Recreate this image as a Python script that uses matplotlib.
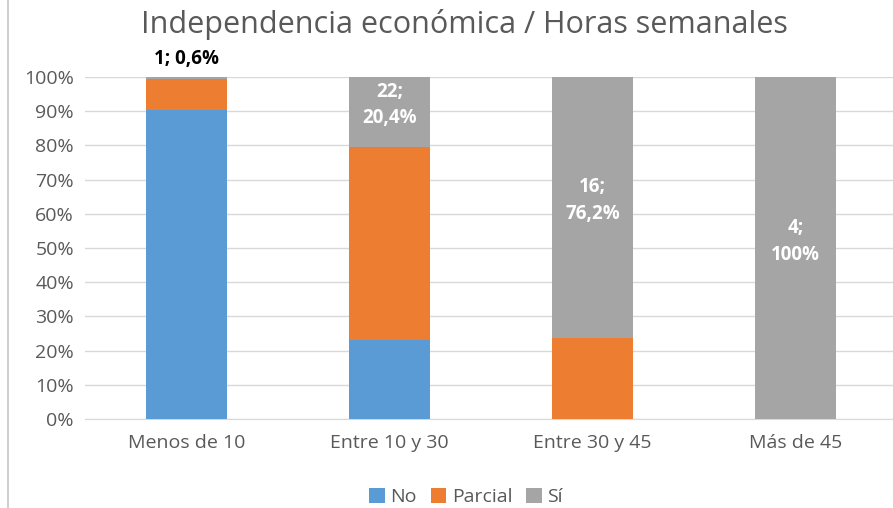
import matplotlib
matplotlib.use("Agg")
import matplotlib.pyplot as plt
import numpy as np

categories = ["Menos de 10", "Entre 10 y 30", "Entre 30 y 45", "Más de 45"]
series_names = ["No", "Parcial", "Sí"]
no_vals = [90.4, 23.0, 0.0, 0.0]
parcial_vals = [9.0, 56.6, 23.8, 0.0]
si_vals = [0.6, 20.4, 76.2, 100.0]
si_counts = [1, 22, 16, 4]
si_labels = ["1; 0,6%", "22;\n20,4%", "16;\n76,2%", "4;\n100%"]
colors = ["#5B9BD5", "#ED7D31", "#A5A5A5"]

plt.rcParams['font.family'] = ['Open Sans', 'DejaVu Sans']

fig = plt.figure(figsize=(8.93, 5.08), dpi=100)
ax = fig.add_axes([85/893, 1-419/508, 808/893, 342/508])

x = np.arange(len(categories))
w = 0.4
ax.bar(x, no_vals, w, color=colors[0], label=series_names[0], zorder=3)
ax.bar(x, parcial_vals, w, bottom=no_vals, color=colors[1], label=series_names[1], zorder=3)
bottom2 = np.array(no_vals) + np.array(parcial_vals)
ax.bar(x, si_vals, w, bottom=bottom2, color=colors[2], label=series_names[2], zorder=3)

for i in range(len(categories)):
    if si_vals[i] < 5:
        ax.text(x[i], 100 + 2.3, si_labels[i], ha='center', va='bottom', fontsize=13.5,
                fontweight='bold', color='black')
    else:
        yc = bottom2[i] + si_vals[i] / 2 + 2
        ax.text(x[i], yc, si_labels[i], ha='center', va='center', fontsize=13.5,
                fontweight='bold', color='white', linespacing=1.45)

ax.set_xlim(-0.5, len(categories) - 0.52)
ax.set_ylim(0, 100)
ax.set_yticks(np.arange(0, 101, 10))
ax.set_yticklabels([f"{v}%" for v in range(0, 101, 10)])
ax.set_xticks(x)
ax.set_xticklabels(categories)
ax.tick_params(axis='both', length=0, labelsize=14, colors='#595959')
ax.tick_params(axis='x', pad=11)
ax.tick_params(axis='y', pad=8)
ax.grid(axis='y', color='#D9D9D9', linewidth=1, zorder=0)
for s in ['top', 'right', 'left']:
    ax.spines[s].set_visible(False)
ax.spines['bottom'].set_color('#D9D9D9')

fig.text(0.52, 1 - 24/508, "Independencia económica / Horas semanales", ha='center', va='center',
         fontsize=22, color='#595959')

fig.legend(loc='center', bbox_to_anchor=(0.522, 1 - 497/508), ncol=3, frameon=False,
           fontsize=14, handlelength=0.8, handleheight=0.8, handletextpad=0.3,
           columnspacing=0.7, labelcolor='#595959')

fig.add_artist(plt.Line2D([8/893, 8/893], [0, 1], color='#D0D0D0', linewidth=1.5))

fig.savefig("out.png", dpi=100)
